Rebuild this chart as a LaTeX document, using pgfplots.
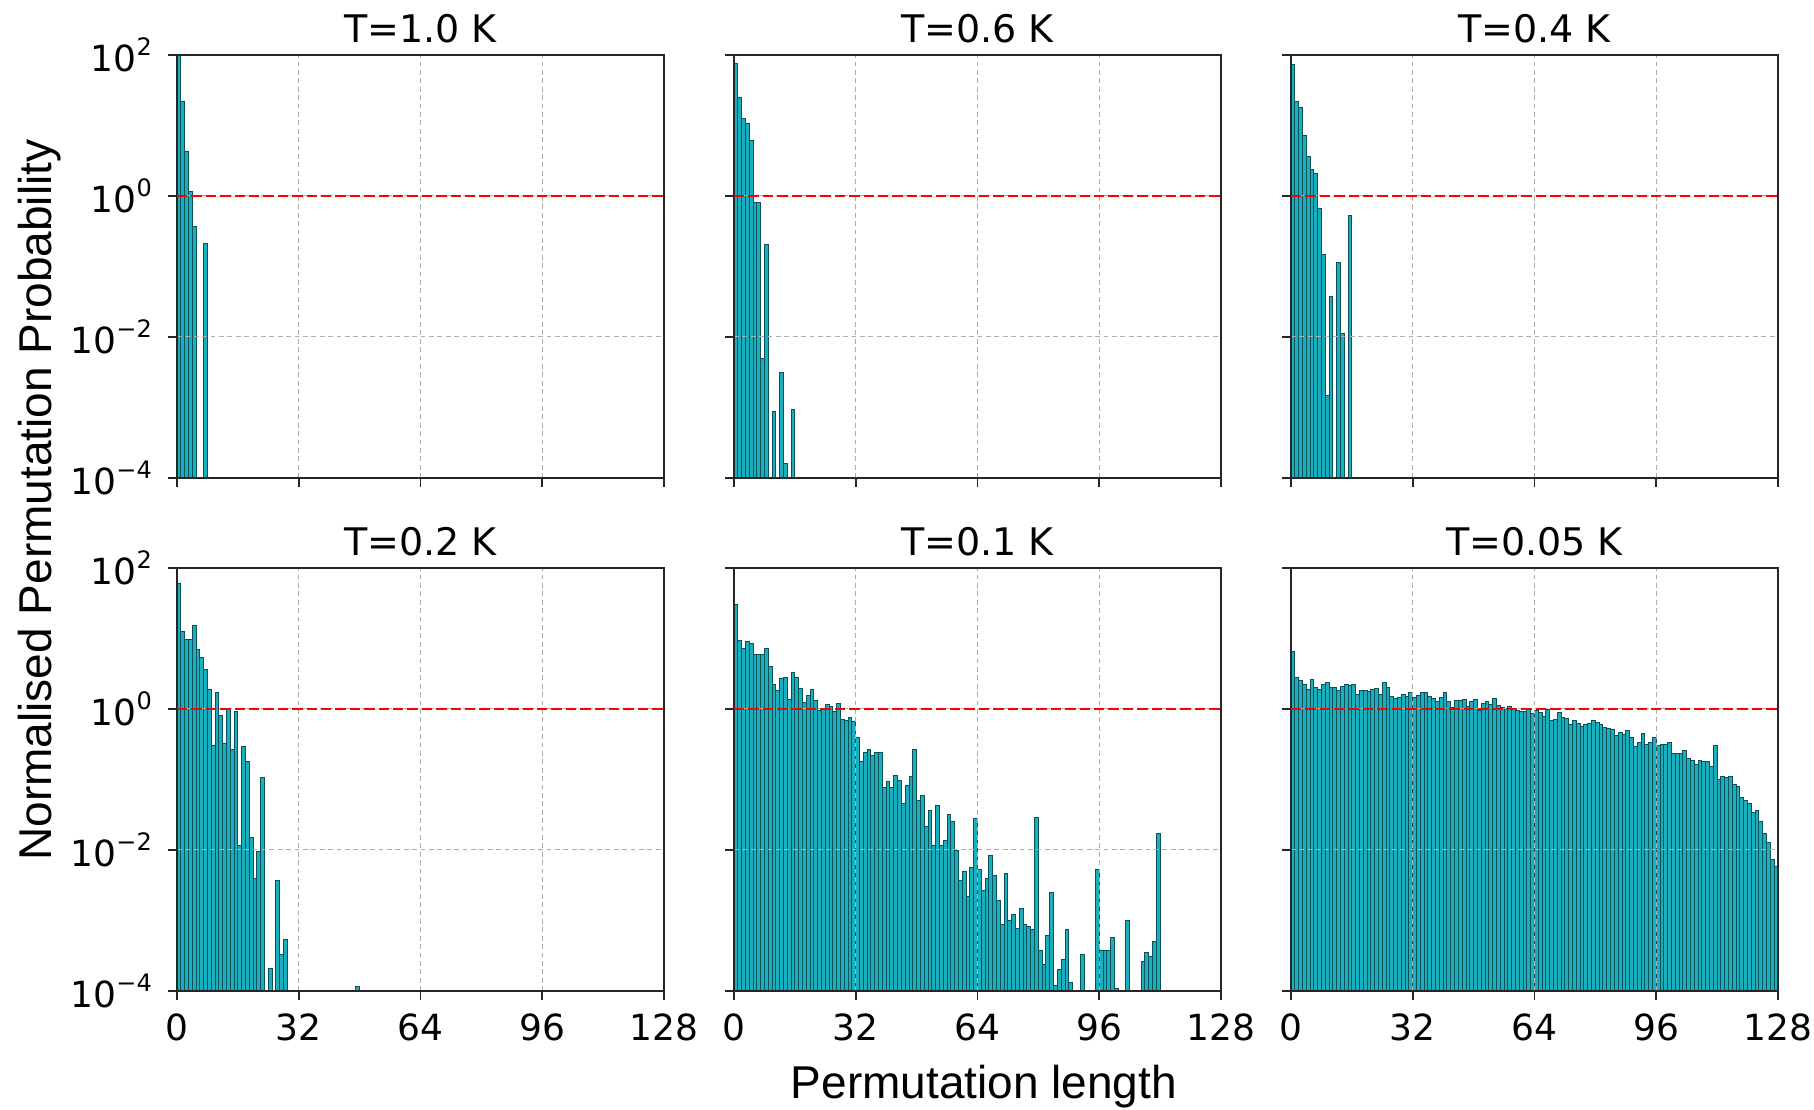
\documentclass[border=0pt]{standalone}
\usepackage{fontspec}
\setmainfont{DejaVu Sans}
\newfontfamily\labelfont{Liberation Sans}
\usepackage{pgfplots}
\usepackage{pgfplotstable}
\pgfplotsset{compat=1.18}
\usepgfplotslibrary{groupplots}

\definecolor{barfill}{HTML}{18AFBE}
\definecolor{baredge}{HTML}{0B4F58}

% bin centre, normalised probability (empty bins left out)
\pgfplotstableread{
x y
0.5 150
1.5 21.8
2.5 4.25
3.5 1.15
4.5 0.367
7.5 0.213
}\tA
\pgfplotstableread{
x y
0.5 76
1.5 25
2.5 12.4
3.5 10.7
4.5 6.1
5.5 0.80
6.5 0.80
7.5 0.0050
8.5 0.208
10.5 0.00087
12.5 0.0031
13.5 0.00016
15.5 0.00094
}\tB
\pgfplotstableread{
x y
0.5 74.5
1.5 21.8
2.5 17.9
3.5 7.3
4.5 3.6
5.5 2.34
6.5 2.1
7.5 0.67
8.5 0.149
9.5 0.0015
10.5 0.037
12.5 0.113
13.5 0.0113
15.5 0.53
}\tC
\pgfplotstableread{
x y
0.5 60
1.5 12.6
2.5 9.6
3.5 9.6
4.5 15.2
5.5 6.9
6.5 5.3
7.5 3.6
8.5 1.88
9.5 0.305
10.5 1.69
11.5 0.81
12.5 0.32
13.5 1.0
14.5 0.27
15.5 0.93
16.5 0.0116
17.5 0.295
18.5 0.181
19.5 0.0148
20.5 0.0040
21.5 0.0096
22.5 0.107
24.5 0.00021
26.5 0.0037
27.5 0.00033
28.5 0.00053
47.5 0.000116
}\tD
\pgfplotstableread{
x y
0.5 30.8
1.5 9.3
2.5 7.3
3.5 9.1
4.5 8.6
5.5 6.0
6.5 5.9
7.5 5.9
8.5 7.2
9.5 4.0
10.5 2.2
11.5 1.82
12.5 2.67
13.5 2.84
14.5 1.36
15.5 3.24
16.5 2.81
17.5 1.94
18.5 1.22
19.5 1.55
20.5 1.88
21.5 1.33
22.5 0.95
23.5 0.98
24.5 1.15
25.5 1.09
26.5 0.93
27.5 1.19
28.5 0.72
29.5 0.68
30.5 0.76
31.5 0.67
32.5 0.40
33.5 0.18
34.5 0.24
35.5 0.27
36.5 0.22
37.5 0.24
38.5 0.24
39.5 0.078
40.5 0.094
41.5 0.078
42.5 0.113
43.5 0.096
44.5 0.046
45.5 0.083
46.5 0.111
47.5 0.27
48.5 0.050
49.5 0.060
50.5 0.0217
51.5 0.036
52.5 0.0116
53.5 0.043
54.5 0.0116
55.5 0.0137
56.5 0.032
57.5 0.025
58.5 0.0098
59.5 0.0037
60.5 0.0050
61.5 0.0022
62.5 0.0057
63.5 0.028
64.5 0.0053
65.5 0.0027
66.5 0.0039
67.5 0.0083
68.5 0.0044
69.5 0.0019
70.5 0.00089
71.5 0.0046
72.5 0.0010
73.5 0.0012
74.5 0.00078
75.5 0.0015
76.5 0.00087
77.5 0.00083
78.5 0.00074
79.5 0.029
80.5 0.00037
81.5 0.00024
82.5 0.00062
83.5 0.0025
84.5 0.00012
85.5 0.00020
86.5 0.00028
87.5 0.00074
88.5 0.00013
91.5 0.00033
95.5 0.0053
96.5 0.00037
97.5 0.00037
98.5 0.00037
99.5 0.00058
100.5 0.00011
103.5 0.0010
107.5 0.00026
108.5 0.00035
109.5 0.00031
110.5 0.00051
111.5 0.0169
}\tE
\pgfplotstableread{
x y
0.5 6.6
1.5 2.81
2.5 2.52
3.5 2.26
4.5 1.88
5.5 2.61
6.5 2.03
7.5 1.88
8.5 2.21
9.5 2.34
10.5 2.05
11.5 2.03
12.5 1.82
13.5 2.10
14.5 2.26
15.5 2.17
16.5 2.21
17.5 1.63
18.5 1.82
19.5 1.82
20.5 1.78
21.5 1.88
22.5 1.94
23.5 1.63
24.5 2.34
25.5 1.99
26.5 1.51
27.5 1.43
28.5 1.46
29.5 1.63
30.5 1.51
31.5 1.72
32.5 1.46
33.5 1.56
34.5 1.69
35.5 1.69
36.5 1.51
37.5 1.43
38.5 1.28
39.5 1.46
40.5 1.69
41.5 1.28
42.5 1.06
43.5 1.33
44.5 1.33
45.5 1.36
46.5 1.09
47.5 1.28
48.5 1.36
49.5 0.95
50.5 1.18
51.5 1.28
52.5 1.15
53.5 1.43
54.5 1.13
55.5 1.06
56.5 1.03
57.5 1.09
58.5 1.01
59.5 0.95
60.5 0.93
61.5 0.93
62.5 1.00
63.5 0.85
64.5 0.95
65.5 0.88
66.5 0.79
67.5 0.98
68.5 0.68
69.5 0.71
70.5 0.88
71.5 0.76
72.5 0.74
73.5 0.60
74.5 0.68
75.5 0.63
76.5 0.57
77.5 0.60
78.5 0.63
79.5 0.68
80.5 0.65
81.5 0.60
82.5 0.55
83.5 0.53
84.5 0.51
85.5 0.42
86.5 0.46
87.5 0.44
88.5 0.49
89.5 0.39
90.5 0.29
91.5 0.34
92.5 0.45
93.5 0.31
94.5 0.33
95.5 0.39
96.5 0.30
97.5 0.31
98.5 0.31
99.5 0.33
100.5 0.23
101.5 0.23
102.5 0.23
103.5 0.26
104.5 0.198
105.5 0.185
106.5 0.162
107.5 0.185
108.5 0.181
109.5 0.178
110.5 0.154
111.5 0.30
112.5 0.0995
113.5 0.111
114.5 0.108
115.5 0.111
116.5 0.085
117.5 0.080
118.5 0.055
119.5 0.050
120.5 0.045
121.5 0.0335
122.5 0.036
123.5 0.0255
124.5 0.0174
125.5 0.0126
126.5 0.0073
127.5 0.0059
}\tF

\pgfplotsset{
  panel/.style={
    width=121.75pt, height=105.75pt, scale only axis,
    xmin=0, xmax=128, ymode=log, ymin=1e-4, ymax=100,
    log origin=infty,
    xtick={0,32,64,96,128}, xticklabels={0,32,64,96,128},
    ytick={1e-4,1e-2,1,100},
    yticklabels={10\textsuperscript{−4},10\textsuperscript{−2},10\textsuperscript{0},10\textsuperscript{2}},
    yminorticks=false, xminorticks=false,
    tick align=outside, xtick pos=left, ytick pos=left,
    major tick length=2.25pt,
    axis line style={black!85, line width=0.4pt},
    tick style={black!85, line width=0.4pt},
    tick label style={font=\fontsize{9}{11}\selectfont},
    title style={font=\fontsize{9.5}{11}\selectfont, yshift=-6.5pt},
    grid=major,
    major grid style={black!32, line width=0.25pt, dash pattern=on 1.2pt off 0.9pt},
    set layers, axis on top,
  },
  nox/.style={xticklabels={}},
  noy/.style={yticklabels={}},
  hbar/.style={ybar, bar width=1, bar shift=0pt, fill=barfill, draw=baredge, line width=0.25pt},
  unity/.style={red, line width=0.6pt, dash pattern=on 2.6pt off 1pt, on layer=axis foreground},
}

\begin{document}
\begin{tikzpicture}
\begin{groupplot}[
  group style={group size=3 by 2, horizontal sep=17.5pt, vertical sep=22.5pt, group name=G},
  panel,
]
\nextgroupplot[nox, title={T=1.0 K}]
  \addplot[hbar] table {\tA};
  \addplot[unity] coordinates {(0,1) (128,1)};
\nextgroupplot[nox, noy, title={T=0.6 K}]
  \addplot[hbar] table {\tB};
  \addplot[unity] coordinates {(0,1) (128,1)};
\nextgroupplot[nox, noy, title={T=0.4 K}]
  \addplot[hbar] table {\tC};
  \addplot[unity] coordinates {(0,1) (128,1)};
\nextgroupplot[title={T=0.2 K}]
  \addplot[hbar] table {\tD};
  \addplot[unity] coordinates {(0,1) (128,1)};
\nextgroupplot[noy, title={T=0.1 K}]
  \addplot[hbar] table {\tE};
  \addplot[unity] coordinates {(0,1) (128,1)};
\nextgroupplot[noy, title={T=0.05 K}]
  \addplot[hbar] table {\tF};
  \addplot[unity] coordinates {(0,1) (128,1)};
\end{groupplot}

\node[rotate=90, font=\labelfont\fontsize{11.5}{14}\selectfont]
  at ([shift={(-34.25pt,-111.25pt)}]G c1r1.north west) {Normalised Permutation Probability};
\node[anchor=base, font=\labelfont\fontsize{11.5}{14}\selectfont]
  at ([shift={(1.6pt,-27pt)}]G c2r2.south) {Permutation length};

\pgfresetboundingbox
\path[use as bounding box] ([shift={(-44.25pt,13.75pt)}]G c1r1.north west)
  rectangle ([shift={(9pt,-29.75pt)}]G c3r2.south east);
\end{tikzpicture}
\end{document}
